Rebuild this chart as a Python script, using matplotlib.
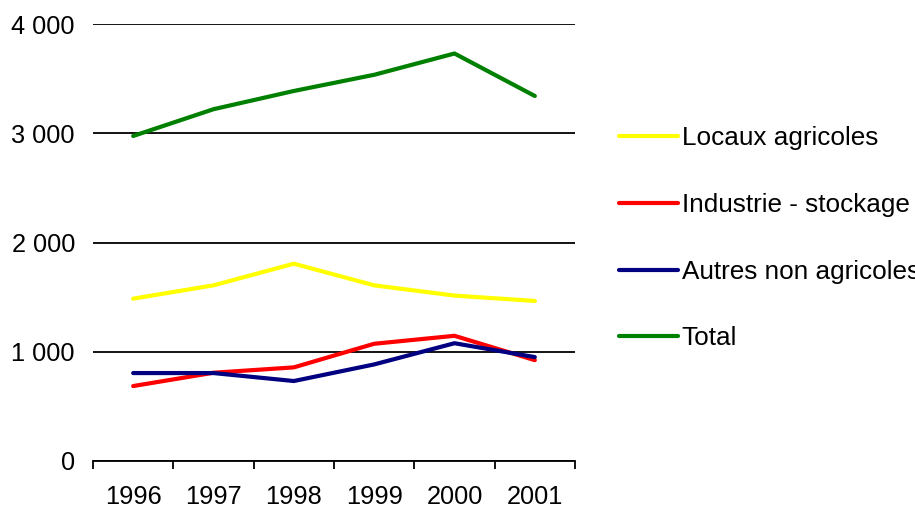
import numpy as np
import matplotlib
matplotlib.use("Agg")
import matplotlib.pyplot as plt
from matplotlib.ticker import FuncFormatter

plt.rcParams['font.family'] = ['Liberation Sans', 'DejaVu Sans']

years = ['1996', '1997', '1998', '1999', '2000', '2001']
locaux = [1486, 1608, 1806, 1608, 1514, 1465]
industrie = [686, 808, 857, 1073, 1146, 923]
autres = [805, 805, 732, 884, 1078, 951]
total = [2975, 3220, 3387, 3535, 3730, 3341]

series = [
    ('Locaux agricoles', locaux, '#FFFF00'),
    ('Industrie - stockage', industrie, '#FF0000'),
    ('Autres non agricoles', autres, '#000080'),
    ('Total', total, '#008000'),
]

fig = plt.figure(figsize=(9.15, 5.09), dpi=100)
ax = fig.add_axes([93/915, 48/509, 482/915, 437/509])

x = np.arange(len(years))
for name, vals, col in series:
    ax.plot(x, vals, color=col, lw=3, label=name, solid_capstyle='round')

ax.set_xlim(-0.5, len(years) - 0.5)
ax.set_ylim(0, 4000)
ax.set_yticks([0, 1000, 2000, 3000, 4000])
ax.yaxis.set_major_formatter(FuncFormatter(lambda v, p: f"{int(v):,}".replace(',', ' ')))
ax.grid(axis='y', color='black', lw=1.3)
ax.set_axisbelow(True)

ax.set_xticks(x)
ax.set_xticklabels(years)
ax.set_xticks(np.arange(-0.5, len(years)), minor=True)
ax.tick_params(axis='x', which='major', length=0, pad=17, labelsize=18.3)
ax.tick_params(axis='x', which='minor', length=6, width=1.3, direction='out')
ax.tick_params(axis='y', length=0, pad=13, labelsize=18.3)

for s in ['top', 'right', 'left']:
    ax.spines[s].set_visible(False)
ax.spines['bottom'].set_linewidth(1.3)

# legend runs off the right edge, as in the original
fig.legend(loc='upper left', bbox_to_anchor=(619/915, 1 - 126/509), frameon=False,
           fontsize=18.8, handlelength=2.25, handletextpad=0.15, labelspacing=1.64,
           borderpad=0, borderaxespad=0)

fig.savefig('out.png', dpi=100)
